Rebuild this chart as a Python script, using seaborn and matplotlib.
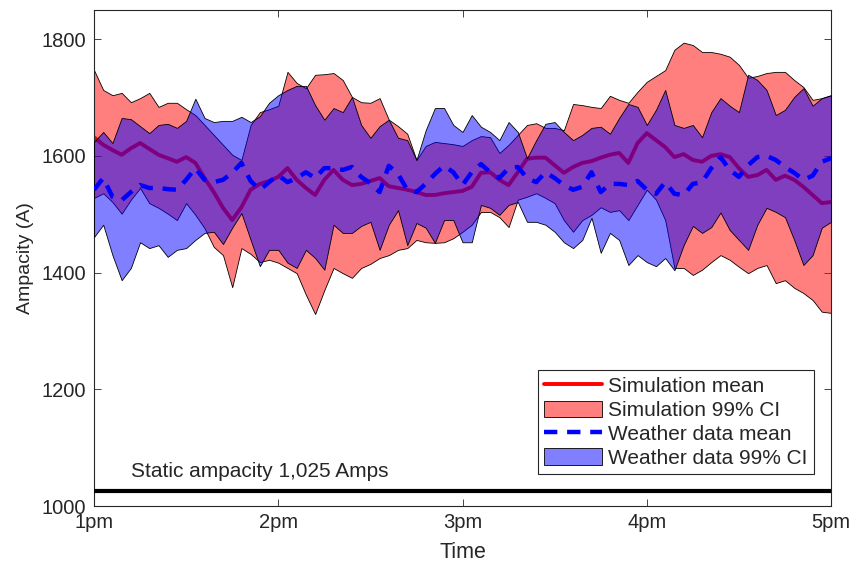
import numpy as np
import pandas as pd
import matplotlib
matplotlib.use("Agg")
import matplotlib.pyplot as plt
import seaborn as sns
from matplotlib.lines import Line2D
from matplotlib.patches import Patch

# time axis: 1pm to 5pm, 3-minute steps
times = pd.date_range("2020-07-01 13:00", "2020-07-01 17:00", freq="3min")
hour_ticks = pd.date_range("2020-07-01 13:00", "2020-07-01 17:00", freq="1h")
hour_labels = ["1pm", "2pm", "3pm", "4pm", "5pm"]

sim_mean = [1632, 1619, 1610, 1602, 1613, 1622, 1612, 1602, 1596, 1590,
            1598, 1588, 1562, 1538, 1511, 1490, 1512, 1542, 1552, 1557,
            1564, 1579, 1559, 1545, 1533, 1559, 1576, 1559, 1550, 1552,
            1557, 1562, 1548, 1545, 1542, 1538, 1533, 1533, 1536, 1538,
            1540, 1547, 1571, 1572, 1559, 1550, 1572, 1595, 1597, 1597,
            1584, 1571, 1581, 1588, 1591, 1597, 1602, 1605, 1588, 1622,
            1639, 1627, 1615, 1598, 1603, 1593, 1590, 1600, 1603, 1598,
            1579, 1564, 1567, 1576, 1559, 1566, 1559, 1547, 1533, 1519,
            1521]
sim_upper = [1747, 1713, 1704, 1708, 1692, 1699, 1708, 1684, 1691, 1691,
             1680, 1670, 1653, 1636, 1619, 1602, 1593, 1653, 1675, 1680,
             1686, 1744, 1725, 1716, 1739, 1740, 1742, 1730, 1701, 1692,
             1691, 1699, 1662, 1651, 1638, 1593, 1617, 1624, 1622, 1620,
             1617, 1627, 1634, 1632, 1605, 1619, 1636, 1653, 1656, 1648,
             1648, 1644, 1689, 1687, 1684, 1682, 1703, 1696, 1691, 1710,
             1727, 1737, 1747, 1782, 1794, 1790, 1778, 1778, 1775, 1770,
             1756, 1734, 1737, 1742, 1744, 1744, 1730, 1718, 1696, 1699,
             1704]
sim_lower = [1528, 1536, 1521, 1501, 1525, 1545, 1519, 1511, 1501, 1490,
             1519, 1499, 1476, 1444, 1430, 1375, 1442, 1432, 1418, 1422,
             1417, 1408, 1399, 1362, 1329, 1370, 1408, 1399, 1391, 1408,
             1415, 1425, 1430, 1439, 1442, 1456, 1452, 1451, 1452, 1459,
             1470, 1482, 1504, 1504, 1495, 1478, 1525, 1530, 1536, 1528,
             1519, 1490, 1470, 1490, 1499, 1512, 1504, 1507, 1490, 1516,
             1542, 1525, 1490, 1408, 1408, 1396, 1405, 1418, 1430, 1422,
             1410, 1399, 1408, 1413, 1382, 1387, 1374, 1365, 1353, 1333,
             1331]

wx_mean = [1542, 1562, 1530, 1524, 1538, 1550, 1545, 1545, 1543, 1542,
           1559, 1579, 1559, 1555, 1559, 1571, 1588, 1557, 1542, 1555,
           1567, 1555, 1562, 1572, 1562, 1579, 1579, 1576, 1581, 1564,
           1553, 1538, 1583, 1569, 1542, 1538, 1552, 1569, 1583, 1572,
           1550, 1572, 1586, 1572, 1562, 1579, 1581, 1562, 1555, 1572,
           1562, 1550, 1542, 1547, 1572, 1538, 1552, 1552, 1550, 1557,
           1542, 1535, 1555, 1535, 1533, 1552, 1555, 1579, 1598, 1576,
           1564, 1584, 1598, 1600, 1593, 1581, 1571, 1559, 1566, 1590,
           1596]
wx_upper = [1624, 1641, 1622, 1665, 1663, 1651, 1639, 1653, 1655, 1648,
            1660, 1698, 1665, 1658, 1660, 1660, 1667, 1658, 1668, 1691,
            1704, 1713, 1720, 1720, 1687, 1662, 1682, 1675, 1701, 1653,
            1631, 1651, 1662, 1631, 1627, 1593, 1644, 1682, 1682, 1653,
            1641, 1670, 1650, 1641, 1627, 1658, 1641, 1596, 1627, 1655,
            1658, 1641, 1627, 1636, 1648, 1650, 1638, 1665, 1689, 1684,
            1653, 1679, 1713, 1653, 1648, 1653, 1632, 1675, 1699, 1686,
            1675, 1739, 1730, 1713, 1670, 1679, 1701, 1716, 1686, 1699,
            1704]
wx_lower = [1461, 1482, 1430, 1387, 1408, 1452, 1442, 1447, 1427, 1439,
            1442, 1456, 1468, 1470, 1449, 1477, 1502, 1456, 1411, 1439,
            1439, 1417, 1408, 1439, 1425, 1405, 1482, 1468, 1468, 1480,
            1487, 1439, 1482, 1507, 1447, 1485, 1477, 1451, 1490, 1490,
            1452, 1452, 1516, 1511, 1499, 1516, 1521, 1487, 1487, 1482,
            1470, 1452, 1442, 1456, 1494, 1434, 1468, 1456, 1413, 1430,
            1418, 1411, 1425, 1404, 1447, 1480, 1468, 1478, 1503, 1473,
            1456, 1439, 1482, 1511, 1504, 1495, 1456, 1413, 1430, 1477,
            1487]

static_ampacity = 1025

df = pd.DataFrame({"time": times, "sim_mean": sim_mean, "wx_mean": wx_mean})

sns.set_style("ticks")
plt.rcParams["font.family"] = ["Liberation Sans", "DejaVu Sans"]
axcol = "#262626"
dash = (0, (3, 2.2))

fig = plt.figure(figsize=(8.57, 5.69), dpi=100)
ax = fig.add_axes([0.1097, 0.1107, 0.86, 0.8717])

# simulation band + mean
ax.fill_between(times, sim_lower, sim_upper, facecolor=(1, 0, 0, 0.5),
                edgecolor="black", linewidth=0.6, zorder=1)
sns.lineplot(data=df, x="time", y="sim_mean", color="red", linewidth=2.8, ax=ax, zorder=2)
# weather band + mean
ax.fill_between(times, wx_lower, wx_upper, facecolor=(0, 0, 1, 0.5),
                edgecolor="black", linewidth=0.6, zorder=3)
sns.lineplot(data=df, x="time", y="wx_mean", color="blue", linewidth=3.2,
             linestyle=dash, ax=ax, zorder=4)

ax.axhline(static_ampacity, color="black", linewidth=3, zorder=5)
ax.text(pd.Timestamp("2020-07-01 13:12"), 1043, "Static ampacity 1,025 Amps",
        fontsize=15, ha="left", va="bottom")

ax.set_xlim(times[0], times[-1])
ax.set_ylim(1000, 1850)
ax.set_yticks([1000, 1200, 1400, 1600, 1800])
ax.set_xticks(hour_ticks)
ax.set_xticklabels(hour_labels)
ax.set_xlabel("Time", fontsize=15.5, color=axcol, labelpad=7)
ax.set_ylabel("Ampacity (A)", fontsize=14, color=axcol, labelpad=5)
ax.tick_params(axis="both", direction="in", length=5, width=0.6, labelsize=14.5,
               colors=axcol, top=True, right=True, pad=6)
ax.tick_params(axis="x", pad=5)
for s in ax.spines.values():
    s.set_linewidth(0.8)
    s.set_color(axcol)

handles = [
    Line2D([], [], color="red", linewidth=2.8),
    Patch(facecolor=(1, 0, 0, 0.5), edgecolor="black", linewidth=0.6),
    Line2D([], [], color="blue", linewidth=3.2, linestyle=dash),
    Patch(facecolor=(0, 0, 1, 0.5), edgecolor="black", linewidth=0.6),
]
labels = ["Simulation mean", "Simulation 99% CI", "Weather data mean", "Weather data 99% CI"]
leg = ax.legend(handles, labels, loc="lower right", bbox_to_anchor=(0.977, 0.0645),
                borderaxespad=0, fontsize=15, frameon=True, fancybox=False,
                handlelength=2.75, handleheight=0.82, handletextpad=0.33,
                labelspacing=0.22, borderpad=0.3)
leg.get_frame().set_edgecolor(axcol)
leg.get_frame().set_linewidth(0.8)
leg.get_frame().set_alpha(1)

fig.savefig("out.png", dpi=100)
